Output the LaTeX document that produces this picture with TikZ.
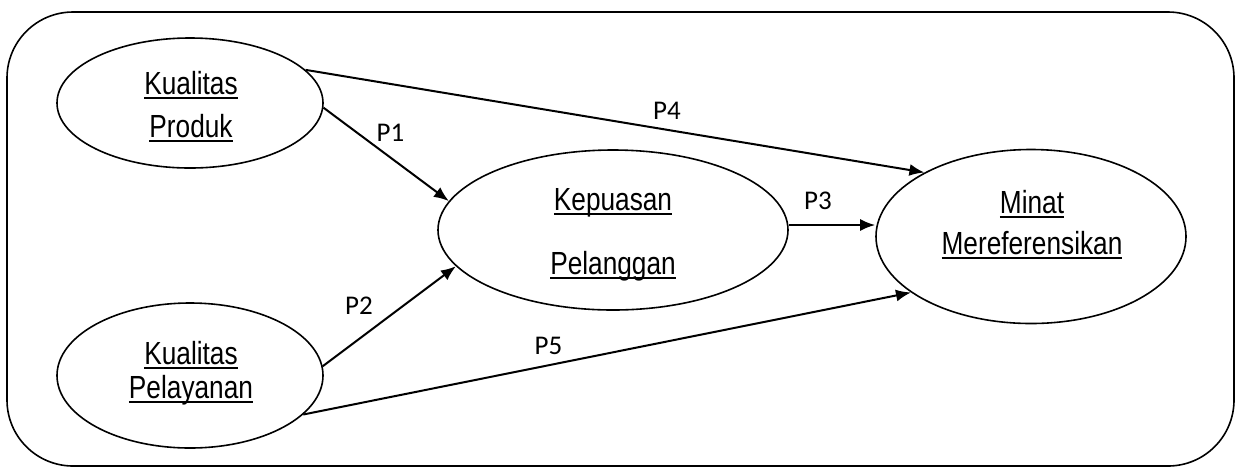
\documentclass[tikz,border=0pt]{standalone}
\usepackage{fontspec}
\usetikzlibrary{shapes.geometric,arrows.meta}
\newfontfamily\narrowfont{Liberation Sans}[FakeStretch=0.82]
\newfontfamily\pathfont{Carlito}
\newlength\ulwidth
\newcommand\ulword[1]{\settowidth\ulwidth{#1}\makebox[0pt][l]{\rule[-2.4pt]{\ulwidth}{0.9pt}}#1}
\tikzset{
  var/.style={draw, ellipse, line width=0.8pt, inner sep=0pt},
  vartext/.style={anchor=base, inner sep=0pt, font=\narrowfont\fontsize{16}{19}\selectfont},
  path label/.style={inner sep=0pt, font=\pathfont\fontsize{13.5}{16}\selectfont},
  arr/.style={line width=1pt, -{Latex[length=7.5pt,width=6pt]}},
}
\begin{document}
\begin{tikzpicture}[x=0.5pt,y=-0.5pt]
\useasboundingbox (0,0) rectangle (1236,468);
% frame
\draw[line width=0.8pt, rounded corners=33pt] (7,12) rectangle (1234,466);

% constructs
\node[var, minimum width=133pt, minimum height=65pt]   (kp) at (190,103) {};
\node[var, minimum width=133pt, minimum height=72.5pt] (kl) at (190,375.5) {};
\node[var, minimum width=175pt, minimum height=80pt]   (kep) at (613,230) {};
\node[var, minimum width=155pt, minimum height=87pt]   (mm) at (1031,236.5) {};

\node[vartext] (kp1) at (191,94)  {\ulword{Kualitas}};
\node[vartext] (kp2) at (191,137) {\ulword{Produk}};
\node[vartext] (kl1) at (191,364) {\ulword{Kualitas}};
\node[vartext] (kl2) at (191,398) {\ulword{Pelayanan}};
\node[vartext] (kep1) at (613,210) {\ulword{Kepuasan}};
\node[vartext] (kep2) at (613,274) {\ulword{Pelanggan}};
\node[vartext] (mm1) at (1032,213) {\ulword{Minat}};
\node[vartext] (mm2) at (1032,254) {\ulword{Mereferensikan}};

% paths
\draw[arr] (kp.358) -- (kep.170);
\draw[arr] (kl.4) -- (kep.193);
\draw[arr] ([yshift=2.5pt]kep.east) -- ([yshift=5.75pt]mm.west);
\draw[arr] (kp.16.5) -- (mm.149);
\draw[arr] (kl.341) -- (mm.205);

\node[path label] (p1) at (390.5,133) {P1};
\node[path label] (p2) at (359,305.5) {P2};
\node[path label] (p3) at (818,200.5) {P3};
\node[path label] (p4) at (667,110.5) {P4};
\node[path label] (p5) at (548.5,346) {P5};
\end{tikzpicture}
\end{document}
